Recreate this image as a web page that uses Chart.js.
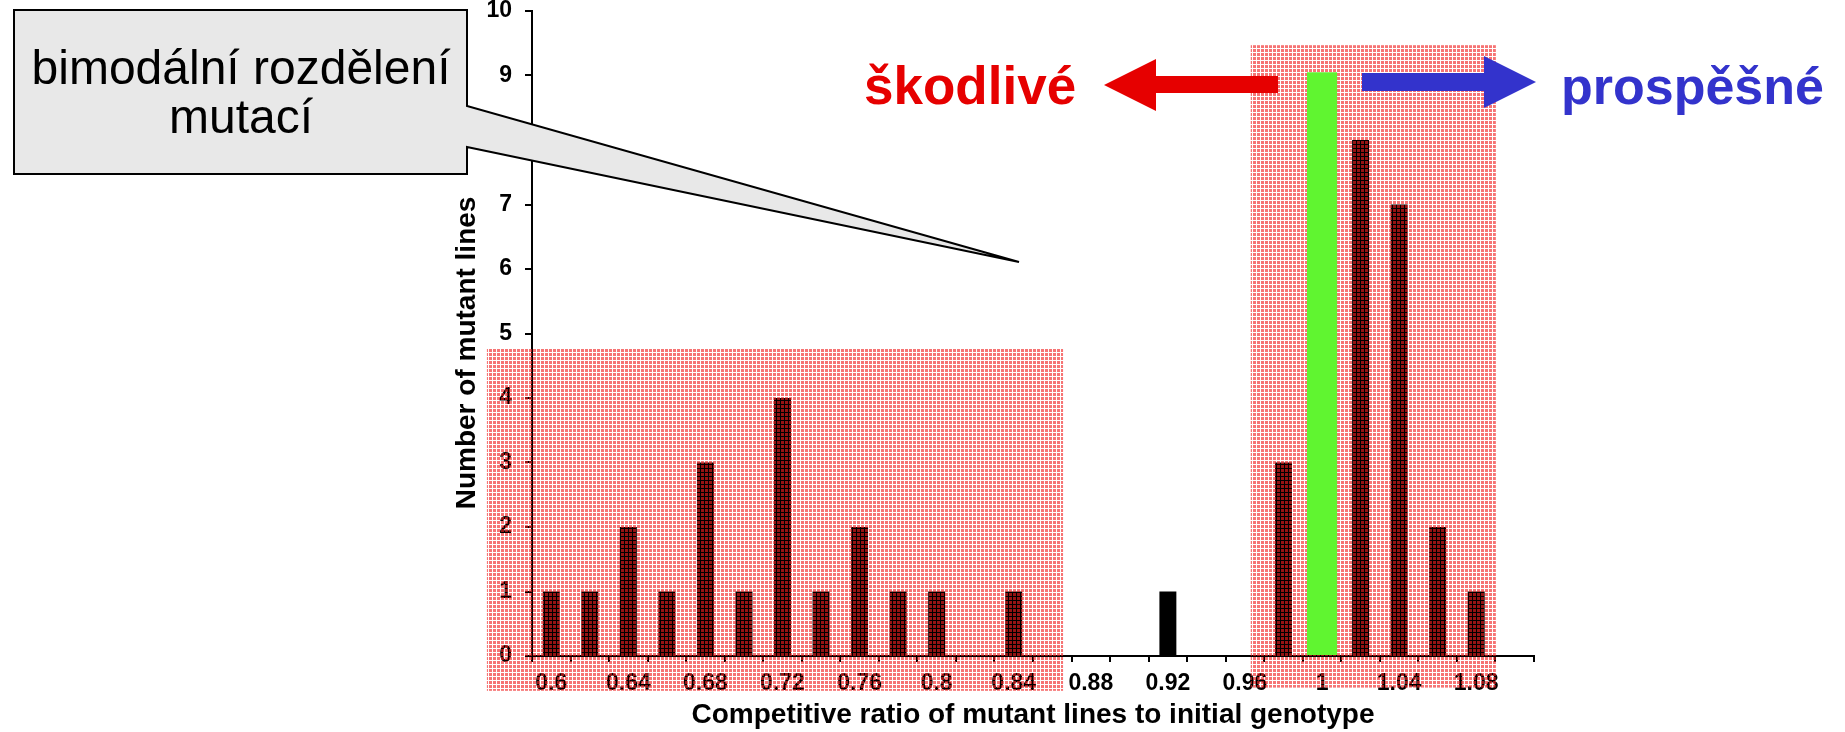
<!DOCTYPE html>
<html>
<head>
<meta charset="utf-8">
<title>Bimodální rozdělení mutací</title>
<script src="https://cdn.jsdelivr.net/npm/chart.js@4.4.1/dist/chart.umd.min.js"></script>
<style>
  html, body { margin: 0; padding: 0; background: #fff; overflow: hidden; }
  canvas { display: block; }
</style>
</head>
<body>
<canvas id="myChart" width="1845" height="732"></canvas>
<script>
// histogram bins (competitive ratio), one every 0.02
var ratios = ['0.60','0.62','0.64','0.66','0.68','0.70','0.72','0.74','0.76','0.78','0.80','0.82','0.84',
              '0.86','0.88','0.90','0.92','0.94','0.96','0.98','1.00','1.02','1.04','1.06','1.08','1.10'];
// number of mutant lines per bin (the 1.00 bin is hidden under the green marker)
var mutantLines = [1,1,2,1,3,1,4,1,2,1,1,0,1,0,0,0,1,0,0,3,0,8,7,2,1,0];
// green marker at ratio 1 (initial genotype)
var neutralMark = [null,null,null,null,null,null,null,null,null,null,null,null,null,
                   null,null,null,null,null,null,null,9.05,null,null,null,null,null];
var tickLabels = ['0.6','','0.64','','0.68','','0.72','','0.76','','0.8','','0.84',
                  '','0.88','','0.92','','0.96','','1','','1.04','','1.08',''];
var yTicks = [0,1,2,3,4,5,6,7,8,9,10];

// red shaded zones, in bin index / count units
var highlightZones = [
    { from: -1.67, to: 13.28, top: 4.76, bottom: -0.54 },
    { from: 18.15, to: 24.51, top: 9.47, bottom: -0.49 }
];

Chart.defaults.font.family = '"Liberation Sans", Arial, Helvetica, sans-serif';
Chart.defaults.color = '#000';

function makeHatch(ctx) {
    var tile = document.createElement('canvas');
    tile.width = 4;
    tile.height = 4;
    var t = tile.getContext('2d');
    t.fillStyle = 'rgba(240, 30, 30, 0.62)';
    t.fillRect(1, 1, 3, 3);
    return ctx.createPattern(tile, 'repeat');
}

function arrow(ctx, pts, color) {
    ctx.beginPath();
    ctx.moveTo(pts[0][0], pts[0][1]);
    for (var i = 1; i < pts.length; i++) ctx.lineTo(pts[i][0], pts[i][1]);
    ctx.closePath();
    ctx.fillStyle = color;
    ctx.fill();
}

var overlays = {
    id: 'overlays',
    // red zones go over the black bars but under the green marker
    afterDatasetDraw: function(chart, args) {
        if (args.index !== 0) return;
        var x = chart.scales.x, y = chart.scales.y, ctx = chart.ctx;
        ctx.save();
        ctx.fillStyle = makeHatch(ctx);
        highlightZones.forEach(function(z) {
            var x0 = x.getPixelForValue(z.from), x1 = x.getPixelForValue(z.to);
            var y0 = y.getPixelForValue(z.top), y1 = y.getPixelForValue(z.bottom);
            ctx.fillRect(x0, y0, x1 - x0, y1 - y0);
        });
        ctx.restore();
    },
    afterDraw: function(chart) {
        var ctx = chart.ctx;
        ctx.save();

        // arrows
        arrow(ctx, [[1104,85],[1156,59],[1156,76],[1278,76],[1278,93],[1156,93],[1156,111]], '#e60000');
        arrow(ctx, [[1536,82],[1484,56],[1484,73],[1362,73],[1362,91],[1484,91],[1484,108]], '#3333cc');

        ctx.font = 'bold 53px "Liberation Sans", Arial, sans-serif';
        ctx.textAlign = 'left';
        ctx.textBaseline = 'alphabetic';
        ctx.fillStyle = '#e60000';
        ctx.fillText('škodlivé', 864, 104);
        ctx.font = 'bold 52px "Liberation Sans", Arial, sans-serif';
        ctx.fillStyle = '#3333cc';
        ctx.fillText('prospěšné', 1561, 104);

        // callout box
        ctx.beginPath();
        ctx.moveTo(14, 10);
        ctx.lineTo(467, 10);
        ctx.lineTo(467, 106);
        ctx.lineTo(1019, 262);
        ctx.lineTo(467, 147);
        ctx.lineTo(467, 174);
        ctx.lineTo(14, 174);
        ctx.closePath();
        ctx.fillStyle = '#e8e8e8';
        ctx.fill();
        ctx.lineWidth = 2;
        ctx.strokeStyle = '#000';
        ctx.stroke();

        ctx.font = '48px "Liberation Sans", Arial, sans-serif';
        ctx.textAlign = 'center';
        ctx.fillStyle = '#000';
        ctx.fillText('bimodální rozdělení', 241, 84);
        ctx.fillText('mutací', 241, 133);

        ctx.restore();
    }
};

var ctx = document.getElementById('myChart').getContext('2d');
var myChart = new Chart(ctx, {
    type: 'bar',
    data: {
        labels: ratios,
        datasets: [{
            label: 'Number of mutant lines',
            data: mutantLines,
            backgroundColor: '#000',
            barPercentage: 0.44,
            categoryPercentage: 1,
            grouped: false,
            order: 1
        },
        {
            label: 'Initial genotype',
            data: neutralMark,
            backgroundColor: '#60f530',
            barPercentage: 0.78,
            categoryPercentage: 1,
            grouped: false,
            order: 0
        }]
    },
    options: {
        responsive: false,
        animation: false,
        devicePixelRatio: 1,
        layout: {
            padding: { left: 430, right: 311, top: 11, bottom: 0 }
        },
        plugins: {
            legend: { display: false },
            tooltip: { enabled: false }
        },
        scales: {
            x: {
                offset: true,
                grid: {
                    offset: true,
                    drawOnChartArea: false,
                    drawTicks: true,
                    tickLength: 6,
                    color: '#000',
                    lineWidth: 2
                },
                border: { display: true, color: '#000', width: 2 },
                ticks: {
                    autoSkip: false,
                    maxRotation: 0,
                    padding: 8,
                    font: { size: 23, weight: 'bold' },
                    callback: function(value, index) {
                        return tickLabels[index];
                    }
                },
                title: {
                    display: true,
                    text: 'Competitive ratio of mutant lines to initial genotype',
                    padding: 0,
                    font: { size: 28, weight: 'bold' }
                },
                afterFit: function(scale) {
                    scale.height = 76;
                }
            },
            y: {
                min: 0,
                max: 10,
                afterBuildTicks: function(scale) {
                    scale.ticks = yTicks.map(function(v) { return { value: v }; });
                },
                grid: {
                    drawOnChartArea: false,
                    drawTicks: true,
                    tickLength: 7,
                    color: '#000',
                    lineWidth: 2
                },
                border: { display: true, color: '#000', width: 2 },
                ticks: {
                    padding: 13,
                    font: { size: 23, weight: 'bold' }
                },
                title: {
                    display: true,
                    text: 'Number of mutant lines     ',
                    padding: { top: 20, bottom: 0 },
                    font: { size: 28, weight: 'bold' }
                },
                afterFit: function(scale) {
                    scale.width = 102;
                    // keep the 10 tick right at the top edge
                    scale.paddingTop = 0;
                    scale.paddingBottom = 0;
                }
            }
        }
    },
    plugins: [overlays]
});
</script>
</body>
</html>
